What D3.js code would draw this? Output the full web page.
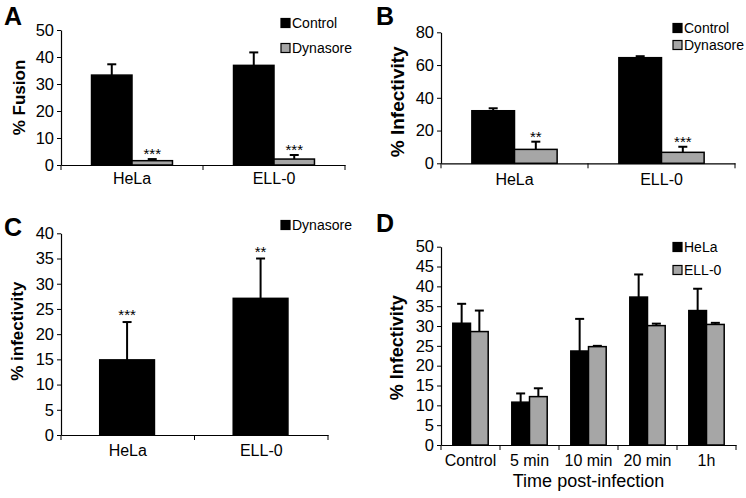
<!DOCTYPE html>
<html><head><meta charset="utf-8">
<script src="https://cdn.jsdelivr.net/npm/d3@7"></script>
<style>
html,body{margin:0;padding:0;background:#fff;}
svg{display:block;font-family:"Liberation Sans",Arial,Helvetica,sans-serif;}
</style></head>
<body>
<svg id="chart" width="746" height="498"></svg>
<script>
// ---- Data ----
const cellLines = ["HeLa", "ELL-0"];
const seriesAB = ["Control", "Dynasore"];

const fusionValues   = [[33.3, 1.6], [36.9, 2.2]];   // panel A [cell][series]
const fusionErrors   = [[4.0, 0.6], [4.8, 1.5]];
const fusionStars    = [["", "***"], ["", "***"]];

const infectValues   = [[32.1, 8.5], [64.5, 6.7]];   // panel B
const infectErrors   = [[1.5, 4.7], [0.9, 3.4]];
const infectStars    = [["", "**"], ["", "***"]];

const seriesC = ["Dynasore"];
const dynValues      = [[14.9], [27.1]];              // panel C
const dynErrors      = [[7.5], [7.9]];
const dynStars       = [["***"], ["**"]];

const timePoints = ["Control", "5 min", "10 min", "20 min", "1h"];
const seriesD = ["HeLa", "ELL-0"];
const timeValues = [[30.7, 28.6], [10.8, 12.2], [23.7, 24.8], [37.3, 30.1], [33.9, 30.4]]; // panel D
const timeErrors = [[4.9, 5.3], [2.2, 2.1], [8.1, 0.2], [5.7, 0.5], [5.5, 0.4]];
const timeStars  = [["",""],["",""],["",""],["",""],["",""]];

const yTicksA = [0, 10, 20, 30, 40, 50];
const yTicksB = [0, 20, 40, 60, 80];
const yTicksC = [0, 5, 10, 15, 20, 25, 30, 35, 40];
const yTicksD = [0, 5, 10, 15, 20, 25, 30, 35, 40, 45, 50];

const colors = ["#000000", "#a6a6a6"];

const svg = d3.select("#chart");

function panel(cfg) {
  const g = svg.append("g");
  const x0 = d3.scaleBand().domain(cfg.cats).range([cfg.x1, cfg.x2]).padding(0);
  const bw = x0.bandwidth();
  const x1 = d3.scaleBand().domain(cfg.series).range([bw * cfg.inner[0], bw * cfg.inner[1]]).padding(0);
  const y = d3.scaleLinear().domain([0, cfg.ymax]).range([cfg.y0, cfg.ytop]);

  // bars
  cfg.cats.forEach((c, ci) => {
    cfg.series.forEach((s, si) => {
      const v = cfg.values[ci][si];
      const e = cfg.errors[ci][si];
      const bx = x0(c) + x1(s);
      const cx = bx + x1.bandwidth() / 2;
      // error bar (upper only)
      g.append("line").attr("x1", cx).attr("x2", cx).attr("y1", y(v)).attr("y2", y(v + e))
        .attr("stroke", "#000").attr("stroke-width", 2);
      g.append("line").attr("x1", cx - 4.5).attr("x2", cx + 4.5).attr("y1", y(v + e)).attr("y2", y(v + e))
        .attr("stroke", "#000").attr("stroke-width", 2);
      g.append("rect").attr("x", bx).attr("y", y(v)).attr("width", x1.bandwidth()).attr("height", y(0) - y(v))
        .attr("fill", cfg.colors[si]).attr("stroke", "#000").attr("stroke-width", 1.5);
      const st = cfg.stars[ci][si];
      if (st) {
        g.append("text").attr("x", cx).attr("y", y(v + e) + cfg.starDy).attr("text-anchor", "middle")
          .attr("font-size", 15).attr("fill", "#000").text(st);
      }
    });
  });

  // y axis
  const ya = g.append("g").attr("transform", `translate(${cfg.x1},0)`)
    .call(d3.axisLeft(y).tickValues(cfg.yticks).tickSize(4).tickPadding(3).tickSizeOuter(0));
  ya.selectAll("text").attr("font-size", 16.5).attr("font-family", "Liberation Sans, Arial, sans-serif").attr("fill", "#000");
  ya.selectAll("line").attr("stroke", "#000");
  ya.select(".domain").attr("stroke", "#000").attr("stroke-width", 1.2);

  // x axis with labels
  const xa = g.append("g").attr("transform", `translate(0,${cfg.y0})`)
    .call(d3.axisBottom(x0).tickSize(0).tickPadding(cfg.xPad).tickSizeOuter(0));
  xa.selectAll("text").attr("font-size", 16).attr("font-family", "Liberation Sans, Arial, sans-serif").attr("fill", "#000");
  xa.select(".domain").attr("stroke", "#000").attr("stroke-width", 1.2);
  // boundary ticks
  const bounds = cfg.cats.map(c => x0(c)).concat([x0(cfg.cats[cfg.cats.length - 1]) + bw]);
  xa.selectAll(".btick").data(bounds).enter().append("line").attr("class", "btick")
    .attr("x1", d => d).attr("x2", d => d).attr("y1", 0).attr("y2", 5).attr("stroke", "#000");

  // y title
  g.append("text").attr("transform", `translate(${cfg.ytx},${(cfg.y0 + cfg.ytop) / 2 + cfg.ytdy}) rotate(-90)`)
    .attr("text-anchor", "middle").attr("font-weight", "bold").attr("font-size", cfg.ytSize).text(cfg.ytitle);

  // panel letter
  g.append("text").attr("x", cfg.lx).attr("y", cfg.ly).attr("font-weight", "bold").attr("font-size", 25).text(cfg.letter);

  // legend
  cfg.series.forEach((s, si) => {
    const ly = cfg.legY[si];
    g.append("rect").attr("x", cfg.legX).attr("y", ly - 4.5).attr("width", 9).attr("height", 9)
      .attr("fill", cfg.colors[si]).attr("stroke", "#000").attr("stroke-width", 1.2);
    g.append("text").attr("x", cfg.legX + 11).attr("y", ly + 5).attr("font-size", 14).text(s);
  });

  if (cfg.xtitle) {
    g.append("text").attr("x", (cfg.x1 + cfg.x2) / 2).attr("y", cfg.xtY).attr("text-anchor", "middle")
      .attr("font-size", 18).text(cfg.xtitle);
  }
}

panel({cats: cellLines, series: seriesAB, values: fusionValues, errors: fusionErrors, stars: fusionStars,
  colors, x1: 61, x2: 345, inner: [0.215, 0.785], y0: 165, ytop: 30, ymax: 50, yticks: yTicksA,
  ytitle: "% Fusion", ytx: 25, ytdy: 0, ytSize: 17, letter: "A", lx: 4, ly: 25,
  legX: 281, legY: [23, 48], xPad: 8, starDy: 0});

panel({cats: cellLines, series: seriesAB, values: infectValues, errors: infectErrors, stars: infectStars,
  colors, x1: 441, x2: 735, inner: [0.21, 0.79], y0: 163.3, ytop: 32.3, ymax: 80, yticks: yTicksB,
  ytitle: "% Infectivity", ytx: 404, ytdy: 4, ytSize: 19, letter: "B", lx: 376, ly: 25,
  legX: 673, legY: [28, 45], xPad: 10, starDy: 0});

panel({cats: cellLines, series: seriesC, values: dynValues, errors: dynErrors, stars: dynStars,
  colors, x1: 61, x2: 328, inner: [0.29, 0.70], y0: 435, ytop: 233.3, ymax: 40, yticks: yTicksC,
  ytitle: "% infectivity", ytx: 23, ytdy: -3, ytSize: 17, letter: "C", lx: 4, ly: 236,
  legX: 281, legY: [225], xPad: 10, starDy: -2});

panel({cats: timePoints, series: seriesD, values: timeValues, errors: timeErrors, stars: timeStars,
  colors, x1: 441, x2: 736, inner: [0.2, 0.8], y0: 445, ytop: 246.7, ymax: 50, yticks: yTicksD,
  ytitle: "% Infectivity", ytx: 403, ytdy: 2, ytSize: 18, letter: "D", lx: 376, ly: 232,
  legX: 673, legY: [247, 270], xPad: 10, starDy: 0, xtitle: "Time post-infection", xtY: 487});
</script>
</body></html>
